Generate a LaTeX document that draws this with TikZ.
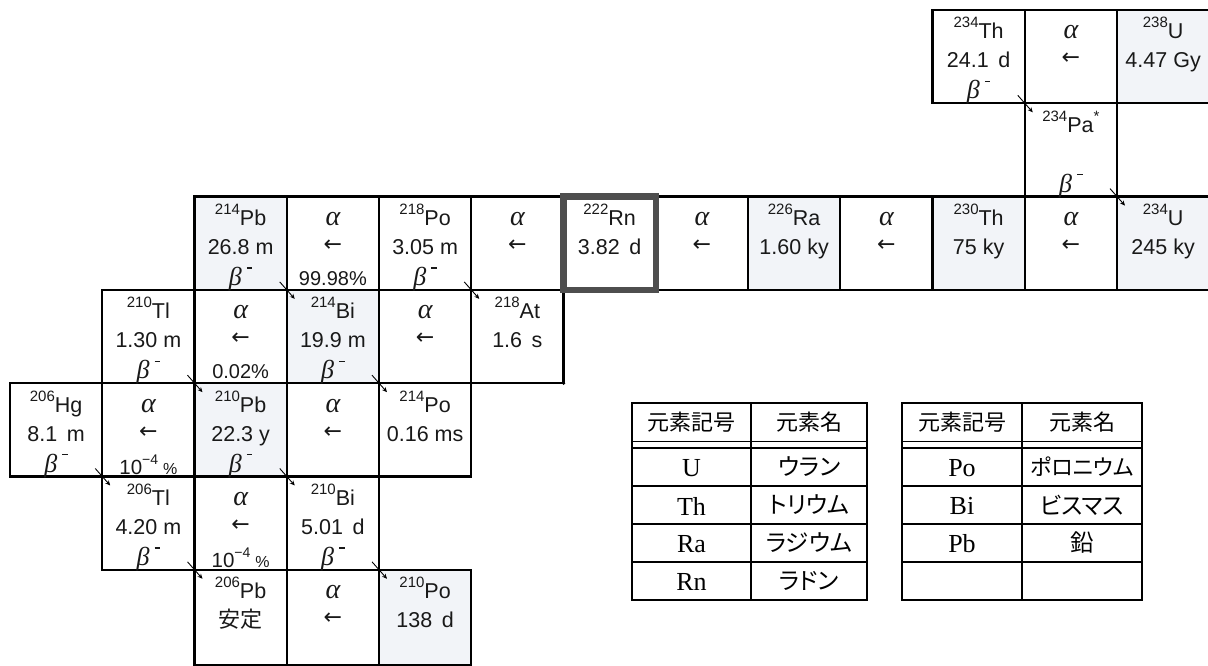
\documentclass[tikz,border=0pt]{standalone}
\usepackage{fontspec}
\setmainfont{Liberation Sans}
\newfontfamily\jpfont{Noto Sans CJK JP}
\newfontfamily\jppfont[RawFeature=+palt]{Noto Sans CJK JP}
\newfontfamily\serfont{Liberation Serif}
\newfontfamily\dvfont{DejaVu Sans}
\usetikzlibrary{arrows.meta,calc}
\definecolor{shade}{HTML}{F2F4F8}
\definecolor{rngray}{HTML}{4E4E4E}
\newcommand\iso[2]{\raisebox{11pt}{\fontsize{15}{15}\selectfont #1}#2}
\newcommand\bet{{\serfont\itshape\fontsize{26}{26}\selectfont β}\hspace{5pt}\raisebox{17pt}{\rule{5.5pt}{1.3pt}}}
\newcommand\tenm{10\raisebox{10pt}{\fontsize{14}{14}\selectfont −4}\hspace{5pt}{\fontsize{16}{16}\selectfont\%}}
\newcommand\Cell[4]{\node[cellsty,#4] (#3) at ({10+92.25*#1+46.125},{10+93.3*#2+46.65}) {};}
\newcommand\Ta[2]{\node[txt,anchor=base] (#1-a) at ($(#1.north)+(0,29)$) {#2};}
\newcommand\Tb[2]{\node[txt,anchor=base] (#1-b) at ($(#1.north)+(0,58)$) {#2};}
\newcommand\Tc[2]{\node[txt,anchor=base] (#1-c) at ($(#1.north)+(0,89)$) {#2};}
\newcommand\Al[1]{\node[txt,anchor=base] (#1-a) at ($(#1.north)+(0,29)$) {\serfont\itshape\fontsize{28}{28}\selectfont α};
  \node[txt] (#1-b) at ($(#1.north)+(0,49)$) {\dvfont\fontsize{22}{22}\selectfont ←};}
\newcommand\Dec[1]{\coordinate (#1-s) at ($(#1.south east)+(-7,-8)$);
  \coordinate (#1-e) at ($(#1.south east)+(8,9)$);
  \draw[decay] (#1-s) -- (#1-e);}
\begin{document}
\begin{tikzpicture}[x=1pt,y=-1pt,
  cellsty/.style={draw=black,line width=2.4pt,minimum width=92.25pt,minimum height=93.3pt,inner sep=0pt,outer sep=0pt},
  txt/.style={inner sep=0pt,outer sep=0pt,font=\fontsize{21.5}{22}\selectfont,text=black!90},
  decay/.style={line width=0.9pt,-{Stealth[length=5pt,width=4.5pt]}},
  tab/.style={line width=1.8pt},
  tabout/.style={line width=2.4pt},
  th/.style={inner sep=0pt,font=\jpfont\fontsize{22}{22}\selectfont},
  tsym/.style={inner sep=0pt,font=\serfont\fontsize{26}{26}\selectfont},
  tname/.style={inner sep=0pt,font=\jppfont\fontsize{23.5}{24}\selectfont}]
\useasboundingbox (0,0) rectangle (1208,666);
\fill[white] (0,0) rectangle (1208,666);
% row 0
\Cell{10}{0}{Th234}{}
\Cell{11}{0}{A0}{}
\Cell{12}{0}{U238}{fill=shade}
% row 1
\Cell{11}{1}{Pa234}{}
% row 2
\Cell{2}{2}{Pb214}{fill=shade}
\Cell{3}{2}{A1}{}
\Cell{4}{2}{Po218}{}
\Cell{5}{2}{A2}{}
\Cell{7}{2}{A3}{}
\Cell{8}{2}{Ra226}{fill=shade}
\Cell{9}{2}{A4}{}
\Cell{10}{2}{Th230}{fill=shade}
\Cell{11}{2}{A5}{}
\Cell{12}{2}{U234}{fill=shade}
% row 3
\Cell{1}{3}{Tl210}{}
\Cell{2}{3}{A6}{}
\Cell{3}{3}{Bi214}{fill=shade}
\Cell{4}{3}{A7}{}
\Cell{5}{3}{At218}{}
% row 4
\Cell{0}{4}{Hg206}{}
\Cell{1}{4}{A8}{}
\Cell{2}{4}{Pb210}{fill=shade}
\Cell{3}{4}{A9}{}
\Cell{4}{4}{Po214}{}
% row 5
\Cell{1}{5}{Tl206}{}
\Cell{2}{5}{A10}{}
\Cell{3}{5}{Bi210}{}
% row 6 (runs past the bottom edge)
\node[cellsty,minimum height=95pt] (Pb206) at ({10+92.25*2+46.125},{569.8+47.5}) {};
\node[cellsty,minimum height=95pt] (A11) at ({10+92.25*3+46.125},{569.8+47.5}) {};
\node[cellsty,minimum height=95pt,fill=shade] (Po210) at ({10+92.25*4+46.125},{569.8+47.5}) {};
% radon, highlighted
\Cell{6}{2}{Rn222}{draw=rngray,line width=6.5pt}
% texts
\Ta{Th234}{\iso{234}{Th}}\Tb{Th234}{24.1\ \,d}\Tc{Th234}{\bet}
\Al{A0}
\Ta{U238}{\iso{238}{U}}\Tb{U238}{4.47 Gy}
\Ta{Pa234}{\iso{234}{Pa}\raisebox{11pt}{\fontsize{15}{15}\selectfont *}}\Tc{Pa234}{\bet}
\Ta{Pb214}{\iso{214}{Pb}}\Tb{Pb214}{26.8 m}\Tc{Pb214}{\bet}
\Al{A1}\Tc{A1}{\fontsize{20}{20}\selectfont 99.98\%}
\Ta{Po218}{\iso{218}{Po}}\Tb{Po218}{3.05 m}\Tc{Po218}{\bet}
\Al{A2}
\Ta{Rn222}{\iso{222}{Rn}}\Tb{Rn222}{3.82\ \,d}
\Al{A3}
\Ta{Ra226}{\iso{226}{Ra}}\Tb{Ra226}{1.60 ky}
\Al{A4}
\Ta{Th230}{\iso{230}{Th}}\Tb{Th230}{75 ky}
\Al{A5}
\Ta{U234}{\iso{234}{U}}\Tb{U234}{245 ky}
\Ta{Tl210}{\iso{210}{Tl}}\Tb{Tl210}{1.30 m}\Tc{Tl210}{\bet}
\Al{A6}\Tc{A6}{\fontsize{20}{20}\selectfont 0.02\%}
\Ta{Bi214}{\iso{214}{Bi}}\Tb{Bi214}{19.9 m}\Tc{Bi214}{\bet}
\Al{A7}
\Ta{At218}{\iso{218}{At}}\Tb{At218}{1.6\ \,s}
\Ta{Hg206}{\iso{206}{Hg}}\Tb{Hg206}{8.1\ \,m}\Tc{Hg206}{\bet}
\Al{A8}\node[txt,anchor=base] (A8-c) at ($(A8.north)+(0,91)$) {\fontsize{20.5}{20}\selectfont\tenm};
\Ta{Pb210}{\iso{210}{Pb}}\Tb{Pb210}{22.3 y}\Tc{Pb210}{\bet}
\Al{A9}
\Ta{Po214}{\iso{214}{Po}}\Tb{Po214}{0.16 ms}
\Ta{Tl206}{\iso{206}{Tl}}\Tb{Tl206}{4.20 m}\Tc{Tl206}{\bet}
\Al{A10}\node[txt,anchor=base] (A10-c) at ($(A10.north)+(0,91)$) {\fontsize{20.5}{20}\selectfont\tenm};
\Ta{Bi210}{\iso{210}{Bi}}\Tb{Bi210}{5.01\ \,d}\Tc{Bi210}{\bet}
\Ta{Pb206}{\iso{206}{Pb}}\Tb{Pb206}{\jpfont\fontsize{22}{22}\selectfont 安定}
\Al{A11}
\Ta{Po210}{\iso{210}{Po}}\Tb{Po210}{138\ \,d}
% beta decay arrows
\Dec{Th234}\Dec{Pa234}\Dec{Pb214}\Dec{Po218}\Dec{Tl210}
\Dec{Bi214}\Dec{Hg206}\Dec{Pb210}\Dec{Tl206}\Dec{Bi210}
\fill (At218.south east) circle (1.8pt);
% table 1
\draw[tab] (751,403) -- (751,600);
\draw[tab] (632,441.5) -- (867,441.5);
\draw[tab] (632,448) -- (867,448);
\draw[tab] (632,486) -- (867,486);
\draw[tab] (632,524) -- (867,524);
\draw[tab] (632,562) -- (867,562);
\draw[tabout] (632,403) rectangle (867,600);
\node[th] (t1h1) at (691.5,422) {元素記号};
\node[th] (t1h2) at (809,422) {元素名};
\node[tsym] (t1s1) at (691.5,468) {U};
\node[tname] (t1n1) at (809,467) {ウラン};
\node[tsym] (t1s2) at (691.5,506) {Th};
\node[tname] (t1n2) at (809,505) {トリウム};
\node[tsym] (t1s3) at (691.5,544) {Ra};
\node[tname] (t1n3) at (809,543) {ラジウム};
\node[tsym] (t1s4) at (691.5,582) {Rn};
\node[tname] (t1n4) at (809,581) {ラドン};
% table 2
\draw[tab] (1022,403) -- (1022,600);
\draw[tab] (902,441.5) -- (1142,441.5);
\draw[tab] (902,448) -- (1142,448);
\draw[tab] (902,486) -- (1142,486);
\draw[tab] (902,524) -- (1142,524);
\draw[tab] (902,562) -- (1142,562);
\draw[tabout] (902,403) rectangle (1142,600);
\node[th] (t2h1) at (962,422) {元素記号};
\node[th] (t2h2) at (1082,422) {元素名};
\node[tsym] (t2s1) at (962,468) {Po};
\node[tname,font=\jppfont\fontsize{22}{22}\selectfont] (t2n1) at (1082,467) {ポロニウム};
\node[tname] (t2n2) at (1082,505) {ビスマス};
\node[tsym] (t2s3) at (962,544) {Pb};
\node[tsym] (t2s2) at (962,506) {Bi};
\node[tname] (t2n3) at (1082,543) {鉛};
\end{tikzpicture}
\end{document}
